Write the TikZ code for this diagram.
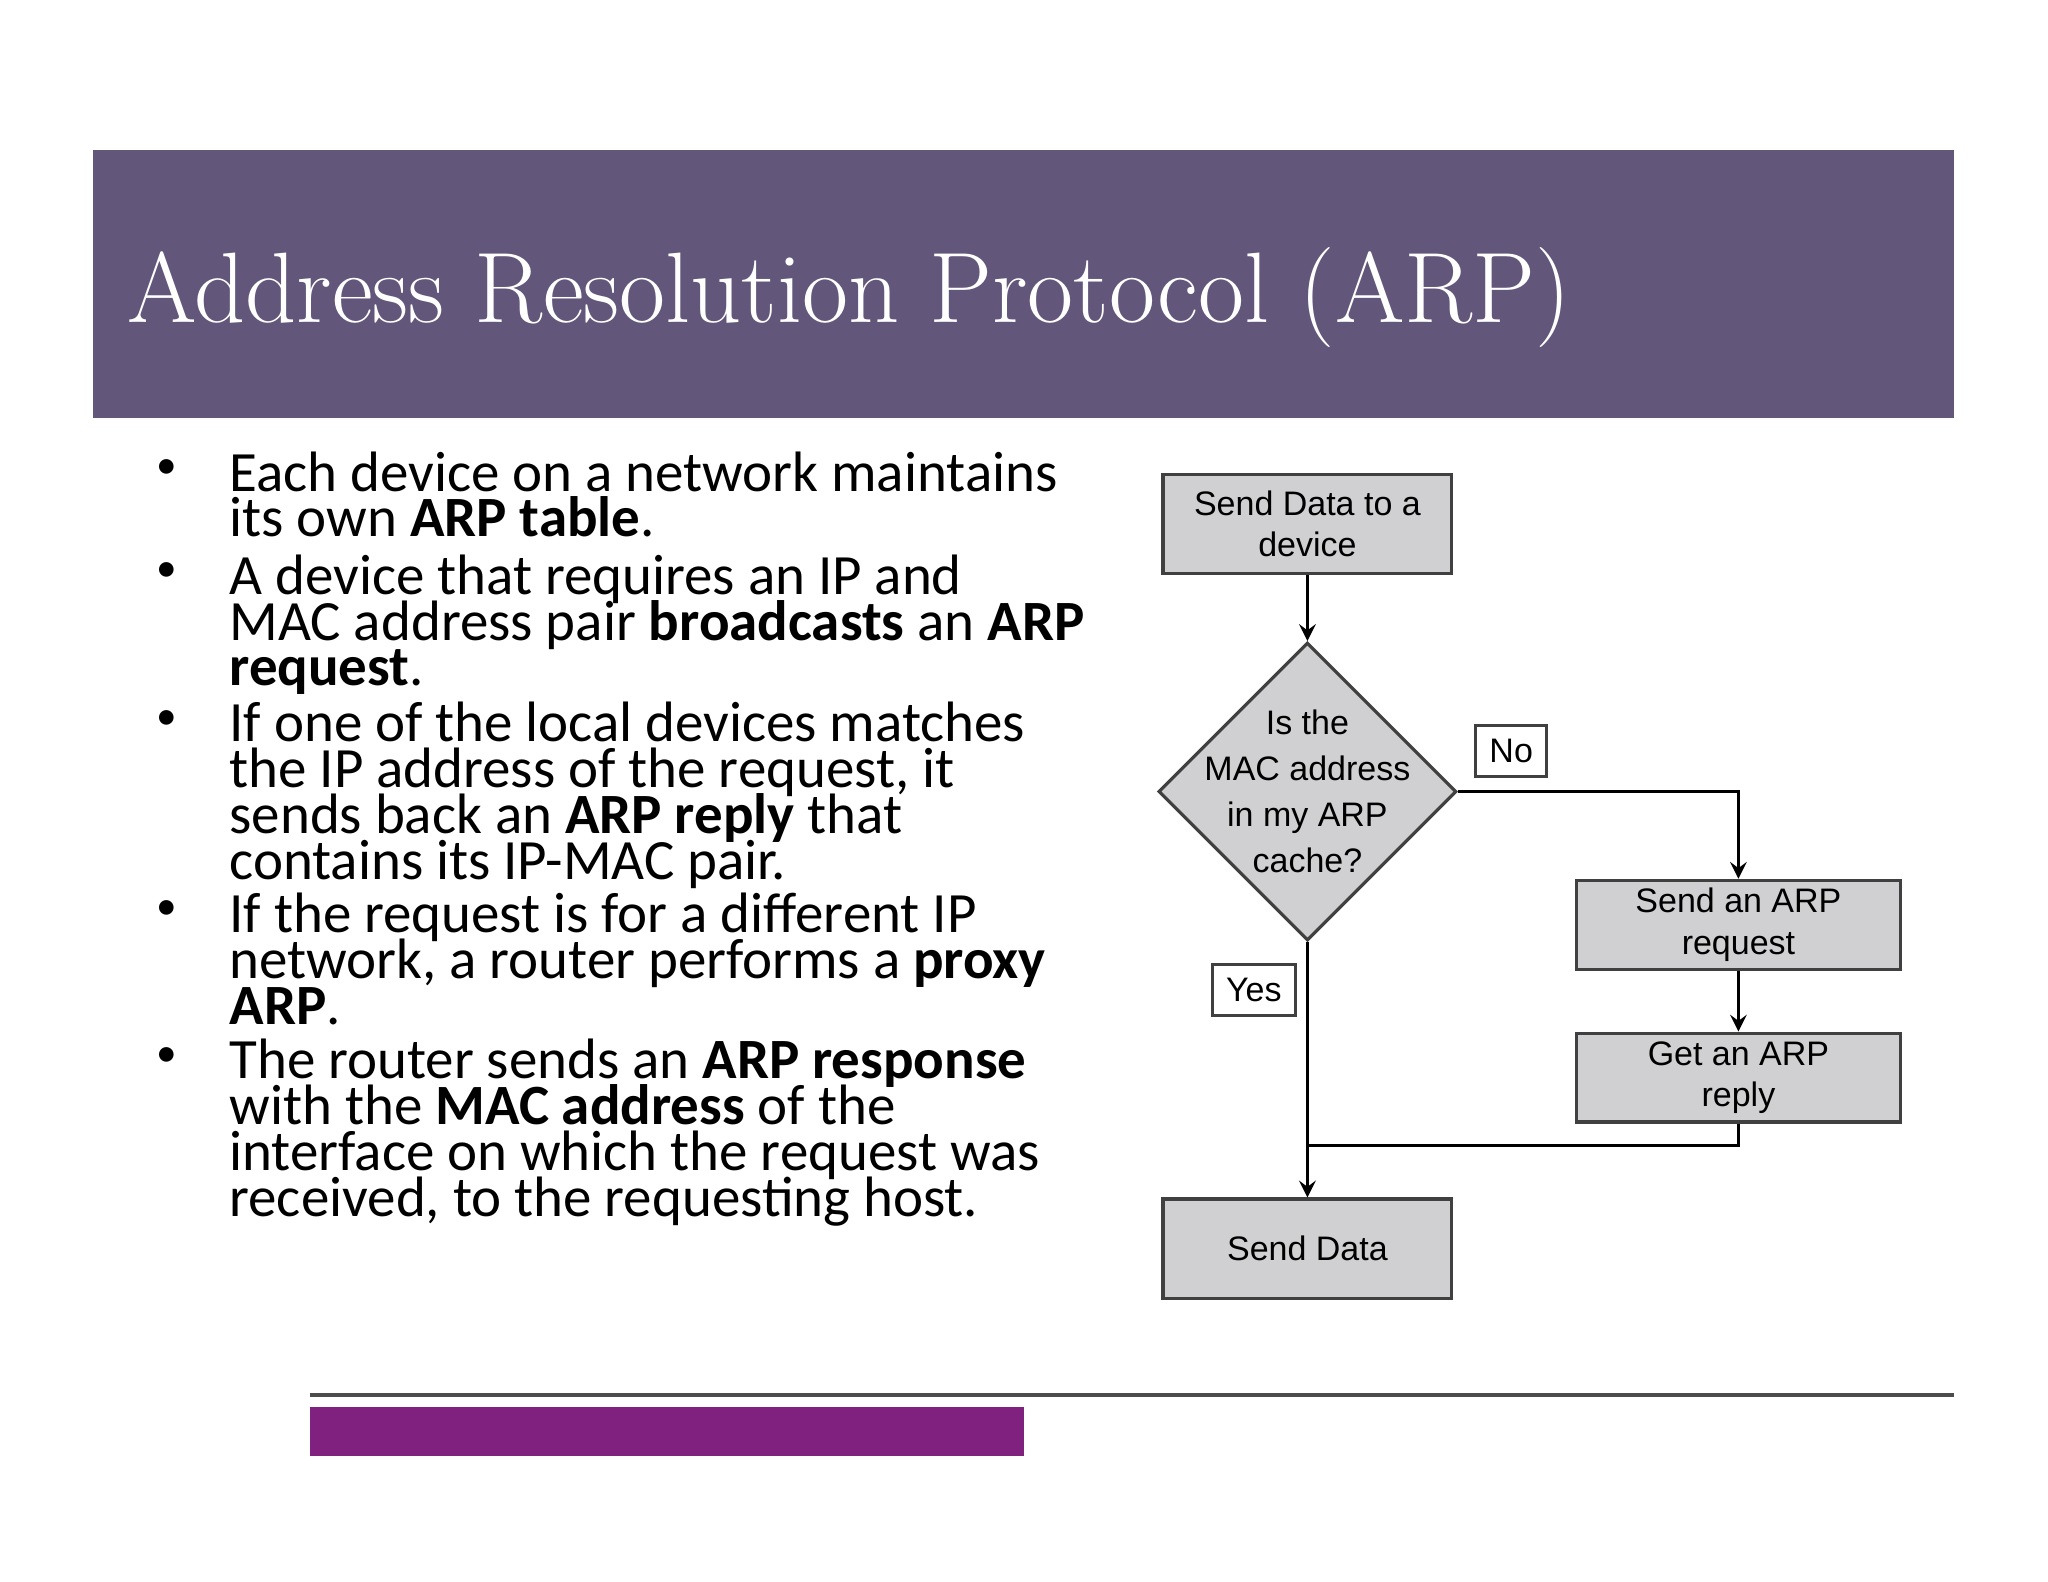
\documentclass[tikz,border=0pt]{standalone}
\usepackage{fontspec}
\setmainfont{Carlito}
\newfontfamily\flowfont{Liberation Sans}
\usetikzlibrary{shapes.geometric}
\definecolor{headbg}{HTML}{62567A}
\definecolor{barpurple}{HTML}{80207F}
\definecolor{boxgray}{HTML}{D0D0D2}
\lineskiplimit=-\maxdimen
\tikzset{
  flowbox/.style={draw=black!75,fill=boxgray,line width=0.7pt,minimum width=2.21cm,minimum height=0.76cm,align=center,font=\flowfont\fontsize{7.4}{9}\selectfont,inner sep=0pt},
  wide/.style={flowbox,minimum width=2.48cm,minimum height=0.68cm},
  tag/.style={draw=black!75,fill=white,line width=0.6pt,font=\flowfont\fontsize{7.4}{9}\selectfont,inner sep=3pt},
  bullet/.style={anchor=north west,align=left,inner sep=0pt,font=\fontsize{12.4}{9.96}\selectfont},
  dot/.style={anchor=north,inner sep=0pt,font=\fontsize{9}{10}\selectfont}
}
\begin{document}
\begin{tikzpicture}[x=0.01cm,y=-0.01cm,>=stealth]
\useasboundingbox (0,0) rectangle (1568,1211);
% header
\fill[headbg] (71,115) rectangle (1496,320);
\node[anchor=west,text=white,inner sep=0pt,font=\fontspec{Latin Modern Roman}\fontsize{21.8}{26}\selectfont] (title) at (97,228) {Address Resolution Protocol (ARP)};
% bullets
\foreach \y in {345,424,537,683,795}
  \node[dot] at (128,\y+6) {•};
\node[bullet] (b1) at (175,345) {Each device on a network maintains\\its own \textbf{ARP table}.};
\node[bullet] (b2) at (175,424) {A device that requires an IP and\\MAC address pair \textbf{broadcasts} an \textbf{ARP}\\\textbf{request}.};
\node[bullet] (b3) at (175,537) {If one of the local devices matches\\the IP address of the request, it\\sends back an \textbf{ARP reply} that\\contains its IP-MAC pair.};
\node[bullet] (b4) at (175,683) {If the request is for a different IP\\network, a router performs a \textbf{proxy}\\\textbf{ARP}.};
\node[bullet] (b5) at (175,795) {The router sends an \textbf{ARP response}\\with the \textbf{MAC address} of the\\interface on which the request was\\received, to the requesting host.};
% flowchart
\node[flowbox] (send) at (1001,401) {Send Data to a\\device};
\node[diamond,draw=black!75,fill=boxgray,line width=0.7pt,minimum width=2.28cm,minimum height=2.28cm,inner sep=0pt] (cache) at (1001,606) {};
\node[align=center,inner sep=0pt,font=\flowfont\fontsize{7.4}{10}\selectfont] (cachetext) at (cache.center) {Is the\\MAC address\\in my ARP\\cache?};
\node[wide] (req) at (1331,708) {Send an ARP\\request};
\node[wide] (reply) at (1331,825) {Get an ARP\\reply};
\node[flowbox] (data) at (1001,956) {Send Data};
\node[tag] (no) at (1157,575) {No};
\node[tag] (yes) at (960,758) {Yes};
\coordinate (join) at (1001,877);
\draw[->,line width=0.6pt] (send) -- (cache);
\draw[->,line width=0.6pt] (cache.east) -| (req.north);
\draw[->,line width=0.6pt] (req) -- (reply);
\draw[line width=0.6pt] (reply.south) |- (join);
\draw[->,line width=0.6pt] (cache.south) -- (data.north);
% footer
\draw[black!70,line width=0.8pt] (237,1068) -- (1496,1068);
\fill[barpurple] (237,1077) rectangle (784,1115);
\end{tikzpicture}
\end{document}
